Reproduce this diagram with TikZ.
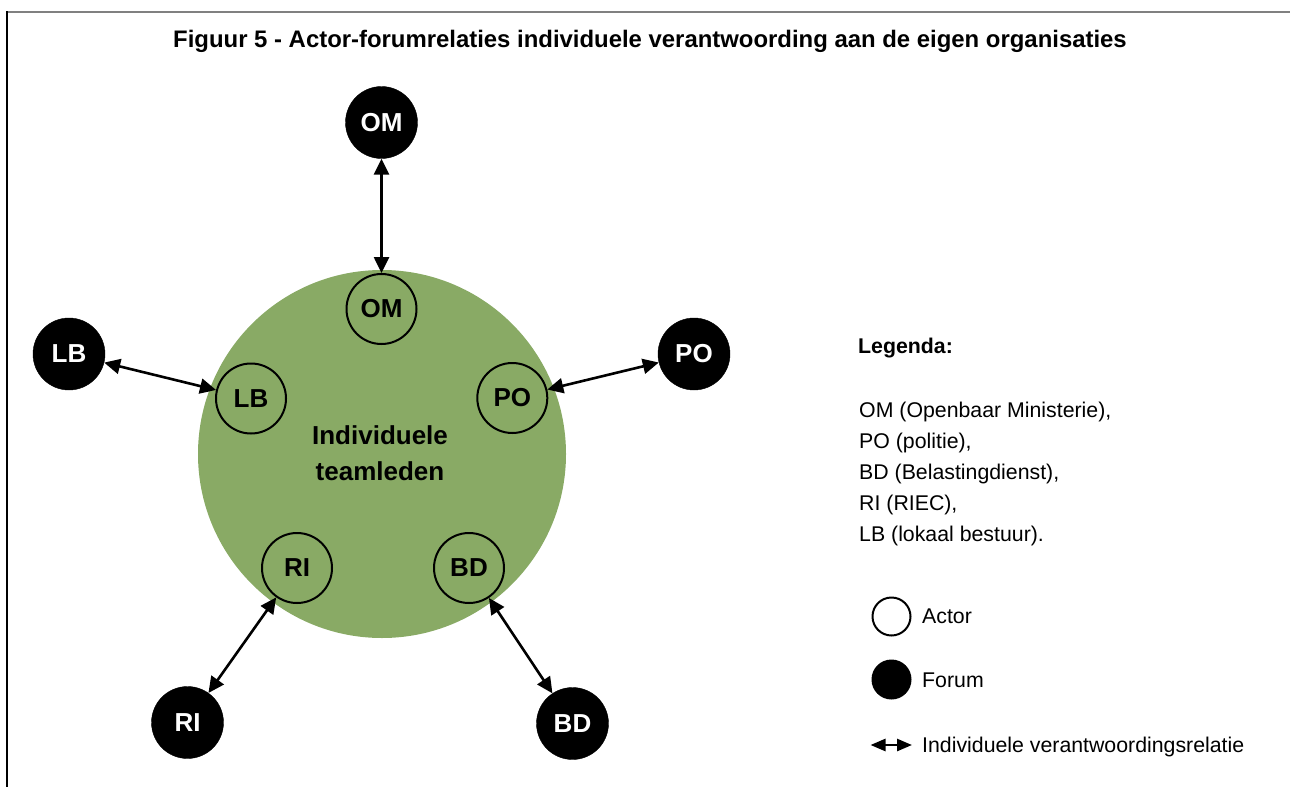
\documentclass[tikz,border=0pt]{standalone}
\usepackage{fontspec}
\setmainfont{Liberation Sans}
\usetikzlibrary{arrows.meta}

\definecolor{teamgreen}{RGB}{137,170,101}

\begin{document}
\begin{tikzpicture}[x=1pt, y=-1pt,
  forum/.style={circle, fill=black, draw=black, minimum size=72pt, inner sep=0pt,
    text=white, font=\fontsize{26}{28}\selectfont\bfseries},
  actor/.style={circle, draw=black, line width=2pt, minimum size=70pt, inner sep=0pt,
    font=\fontsize{26}{28}\selectfont\bfseries},
  relation/.style={line width=2.6pt, {Triangle[length=16pt,width=15pt]}-{Triangle[length=16pt,width=15pt]}},
  legendtext/.style={anchor=base west, inner sep=0pt, font=\fontsize{21.3}{24}\selectfont},
]
\useasboundingbox (0,0) rectangle (1290,787);

% frame
\draw[color=black!50, line width=2pt] (7,12) -- (1290,12);
\draw[black, line width=1.2pt] (7,11) -- (7,787);

% title
\node[anchor=base, inner sep=0pt, font=\fontsize{23.9}{28}\selectfont\bfseries] (title) at (650,47)
  {Figuur 5 - Actor-forumrelaties individuele verantwoording aan de eigen organisaties};

% team circle
\node[circle, fill=teamgreen, minimum size=368pt, inner sep=0pt] (team) at (382,454) {};
\node[align=center, inner sep=0pt, font=\fontsize{26}{36}\selectfont\bfseries] (teamtext) at (380,453)
  {Individuele\\teamleden};

% actors inside the team
\node[actor] (aOM) at (381.5,309) {OM};
\node[actor] (aLB) at (251,398.5) {LB};
\node[actor] (aPO) at (512.3,398) {PO};
\node[actor] (aRI) at (297,568) {RI};
\node[actor] (aBD) at (469,568) {BD};

% forums
\node[forum] (fOM) at (381.5,122.5) {OM};
\node[forum] (fLB) at (69,354) {LB};
\node[forum] (fPO) at (694,354) {PO};
\node[forum] (fRI) at (187.5,722.5) {RI};
\node[forum] (fBD) at (572.5,723.5) {BD};

% accountability relations
\draw[relation] (fOM) -- (aOM);
\draw[relation] (fLB) -- (aLB);
\draw[relation] (fPO) -- (aPO);
\draw[relation] (fRI) -- (aRI);
\draw[relation] (fBD) -- (aBD);

% legend
\node[legendtext, font=\fontsize{21.3}{24}\selectfont\bfseries] (leg) at (858,353) {Legenda:};
\node[legendtext] (l1) at (859,417) {OM (Openbaar Ministerie),};
\node[legendtext] (l2) at (859,448) {PO (politie),};
\node[legendtext] (l3) at (859,479) {BD (Belastingdienst),};
\node[legendtext] (l4) at (859,510) {RI (RIEC),};
\node[legendtext] (l5) at (859,541) {LB (lokaal bestuur).};

\node[circle, draw=black, line width=2pt, minimum size=38pt, inner sep=0pt] (kActor) at (891.5,616.5) {};
\node[legendtext] (tActor) at (922,623.5) {Actor};
\node[circle, fill=black, minimum size=40pt, inner sep=0pt] (kForum) at (891.5,679.5) {};
\node[legendtext] (tForum) at (922,687.5) {Forum};
\coordinate (kL) at (870.5,745);
\coordinate (kR) at (912,745);
\draw[line width=2.6pt, {Triangle[length=15pt,width=12pt]}-{Triangle[length=15pt,width=12pt]}] (kL) -- (kR);
\node[legendtext] (tRel) at (922,752) {Individuele verantwoordingsrelatie};
\end{tikzpicture}
\end{document}
